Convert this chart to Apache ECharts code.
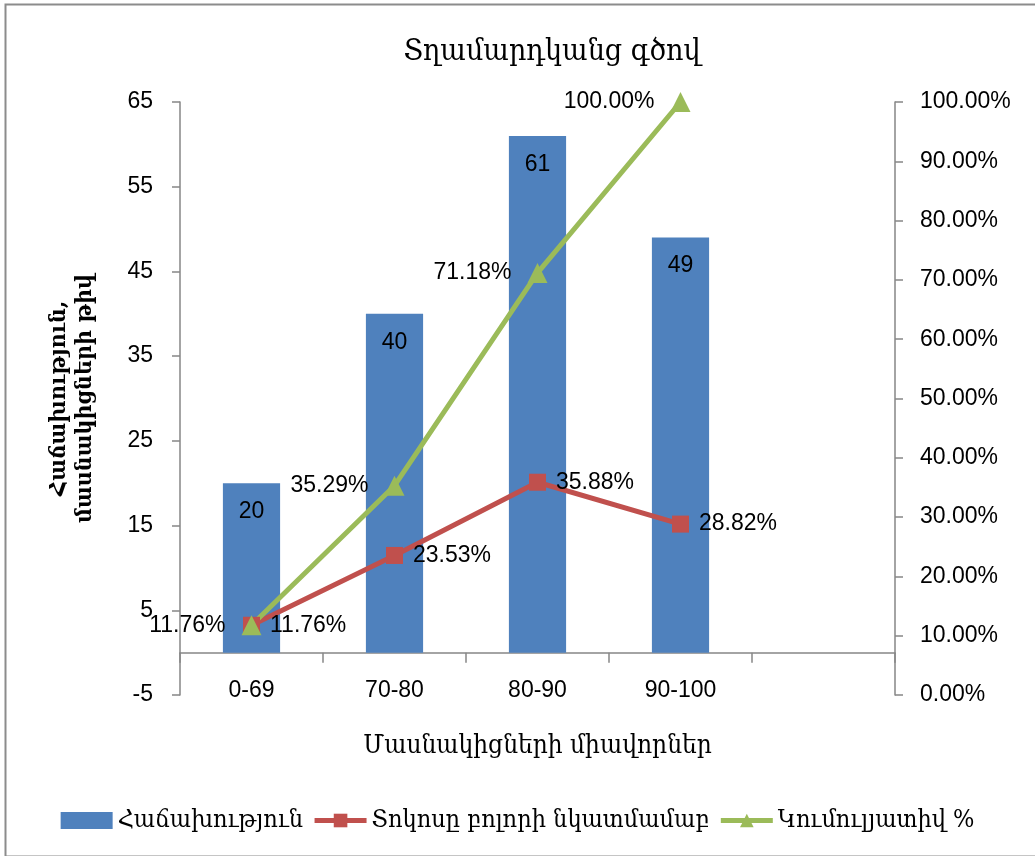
<!DOCTYPE html>
<html>
<head>
<meta charset="utf-8">
<script src="https://cdn.jsdelivr.net/npm/echarts@6/dist/echarts.min.js"></script>
<style>
html,body{margin:0;padding:0;background:#fff;}
#chart{width:1035px;height:856px;}
</style>
</head>
<body>
<div id="chart"></div>
<script>
const categories = ['0-69', '70-80', '80-90', '90-100', ''];
const frequency = [20, 40, 61, 49];
const relativeShare = [0.1176, 0.2353, 0.3588, 0.2882];
const cumulativeShare = [0.1176, 0.3529, 0.7118, 1.0];
const leftTicks = [-5, 5, 15, 25, 35, 45, 55, 65];

const armFont = '"DejaVu Serif Condensed", "DejaVu Serif", serif';
const numFont = '"Liberation Sans", Arial, sans-serif';
const pct = v => (v * 100).toFixed(2) + '%';

const chart = echarts.init(document.getElementById('chart'));
chart.setOption({
  animation: false,
  backgroundColor: '#fff',
  title: {
    text: 'Տղամարդկանց գծով',
    left: 547, top: 32, textAlign: 'center',
    textStyle: { fontFamily: armFont, fontSize: 30, fontWeight: 'normal', color: '#000' }
  },
  graphic: [{
    type: 'rect', left: 3, top: 2, z: 100, silent: true,
    shape: { width: 1040, height: 852 },
    style: { fill: 'none', stroke: '#8c8c8c', lineWidth: 2 }
  }],
  legend: {
    top: 803, left: 'center',
    itemWidth: 52, itemHeight: 17, itemGap: 9,
    textStyle: { fontFamily: armFont, fontSize: 25, color: '#000' },
    data: [
      { name: 'Հաճախություն', icon: 'rect' },
      { name: 'Տոկոսը բոլորի նկատմամաբ', lineStyle: { width: 5 } },
      { name: 'Կումուլյատիվ %', lineStyle: { width: 5 } }
    ]
  },
  grid: { left: 180, right: 140, top: 102, bottom: 161 },
  xAxis: {
    type: 'category',
    data: categories,
    axisLine: { onZero: true, onZeroAxisIndex: 0, lineStyle: { color: '#868686', width: 1.5 } },
    axisTick: { show: true, length: 10, lineStyle: { color: '#868686', width: 1.5 } },
    axisLabel: { margin: -16, fontFamily: numFont, fontSize: 23, color: '#000' },
    name: 'Մասնակիցների միավորներ',
    nameLocation: 'middle', nameGap: 38,
    nameTextStyle: { fontFamily: armFont, fontSize: 26, color: '#000', fontWeight: 'normal' }
  },
  yAxis: [{
    type: 'value', min: -5, max: 65,
    splitLine: { show: false },
    axisLine: { show: true, lineStyle: { color: '#868686', width: 1.5 } },
    axisTick: { show: true, length: 8, customValues: leftTicks, lineStyle: { color: '#868686', width: 1.5 } },
    axisLabel: { margin: 27, customValues: leftTicks, fontFamily: numFont, fontSize: 23, color: '#000' },
    name: 'Հաճախություն,\nմասնակիցների թիվ',
    nameLocation: 'middle', nameGap: 82, nameRotate: 90,
    nameTextStyle: { fontFamily: armFont, fontSize: 23, color: '#000', fontWeight: 'bold', lineHeight: 26, align: 'center' }
  }, {
    type: 'value', min: 0, max: 1, interval: 0.1,
    splitLine: { show: false },
    axisLine: { show: true, lineStyle: { color: '#868686', width: 1.5 } },
    axisTick: { show: true, length: 8, lineStyle: { color: '#868686', width: 1.5 } },
    axisLabel: { margin: 25, fontFamily: numFont, fontSize: 23, color: '#000', formatter: pct }
  }],
  series: [{
    name: 'Հաճախություն',
    type: 'bar',
    yAxisIndex: 0,
    data: frequency,
    barWidth: '40%',
    itemStyle: { color: '#4F81BD' },
    label: { show: true, position: 'insideTop', distance: 17, fontFamily: numFont, fontSize: 23, color: '#000' }
  }, {
    name: 'Տոկոսը բոլորի նկատմամաբ',
    type: 'line',
    yAxisIndex: 1,
    data: relativeShare,
    symbol: 'rect', symbolSize: 17,
    lineStyle: { color: '#C0504D', width: 5 },
    itemStyle: { color: '#C0504D' },
    label: { show: true, position: 'right', distance: 10, fontFamily: numFont, fontSize: 23, color: '#000', formatter: p => pct(p.value) }
  }, {
    name: 'Կումուլյատիվ %',
    type: 'line',
    yAxisIndex: 1,
    data: cumulativeShare,
    symbol: 'triangle', symbolSize: 20,
    lineStyle: { color: '#9BBB59', width: 5 },
    itemStyle: { color: '#9BBB59' },
    label: { show: true, position: 'left', distance: 16, fontFamily: numFont, fontSize: 23, color: '#000', formatter: p => pct(p.value) }
  }]
});
</script>
</body>
</html>
